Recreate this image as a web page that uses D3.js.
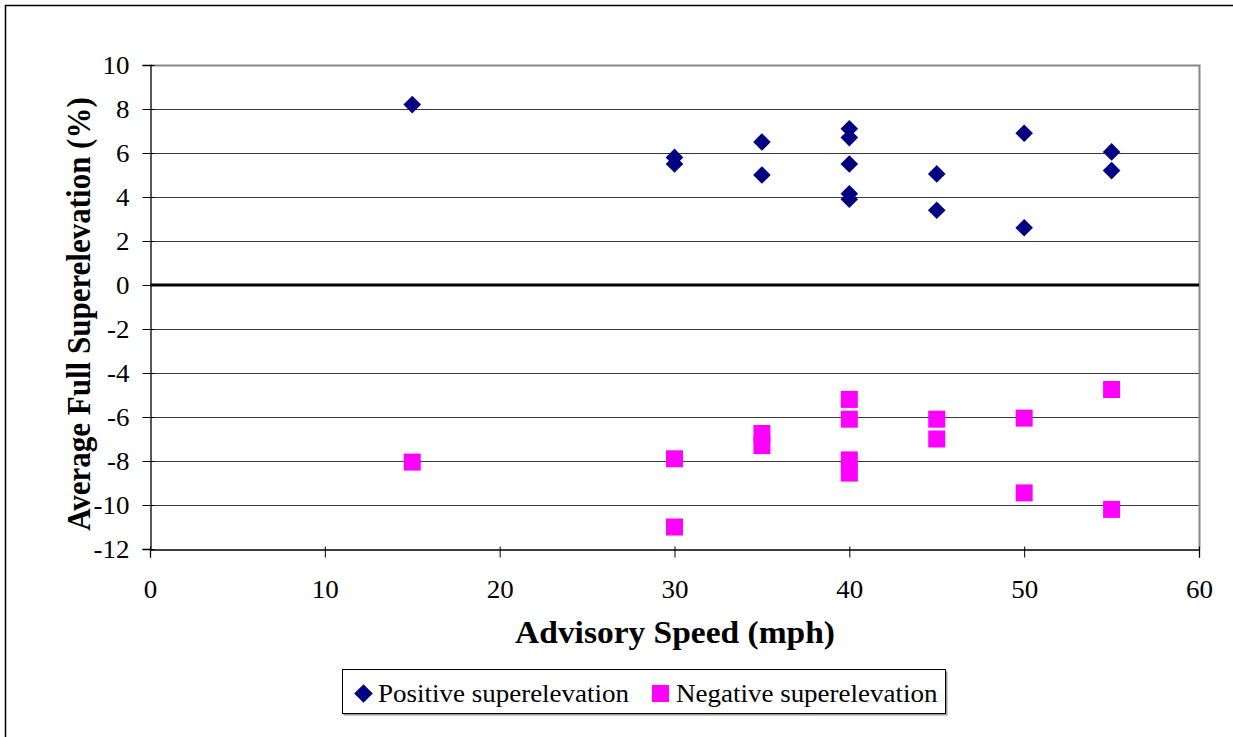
<!DOCTYPE html>
<html>
<head>
<meta charset="utf-8">
<script src="https://cdn.jsdelivr.net/npm/d3@7"></script>
<style>
  body { margin: 0; background: #fff; }
  svg { display: block; }
  text { font-family: "Liberation Serif", "Times New Roman", Times, serif; fill: #000; }
</style>
</head>
<body>
<svg id="chart" width="1233" height="737"></svg>
<script>
// Advisory speed (mph) and average full superelevation (%) per curve
const positiveSpeed = [15, 30, 30, 35, 35, 40, 40, 40, 40, 40, 45, 45, 50, 50, 55, 55];
const positiveSuper = [8.2, 5.8, 5.5, 6.5, 5.0, 7.1, 6.7, 5.5, 4.15, 3.9, 5.05, 3.4, 6.9, 2.6, 6.05, 5.2];

const negativeSpeed = [15, 30, 30, 35, 35, 40, 40, 40, 40, 45, 45, 50, 50, 55, 55];
const negativeSuper = [-8.05, -7.9, -11.0, -6.75, -7.3, -5.2, -6.1, -7.95, -8.55, -6.1, -7.0, -6.05, -9.45, -4.75, -10.2];

const xTicks = [0, 10, 20, 30, 40, 50, 60];
const yTicks = [10, 8, 6, 4, 2, 0, -2, -4, -6, -8, -10, -12];

const seriesNames = ["Positive superelevation", "Negative superelevation"];
const seriesColors = ["#000080", "#ff00ff"];

// text is drawn slightly wide
const SX = 1.08;

const svg = d3.select("#chart");

// outer frame
svg.append("rect")
  .attr("x", 5.5).attr("y", 5.5)
  .attr("width", 1240).attr("height", 740)
  .attr("fill", "none").attr("stroke", "#000").attr("stroke-width", 1.5);

const plot = { left: 150, top: 65, right: 1199, bottom: 549 };

const x = d3.scaleLinear().domain([0, 60]).range([plot.left, plot.right]);
const y = d3.scaleLinear().domain([-12, 10]).range([plot.bottom, plot.top]);

// horizontal gridlines
svg.append("g")
  .selectAll("line")
  .data(yTicks.filter(t => t !== 0 && t !== -12 && t !== 10))
  .join("line")
  .attr("x1", plot.left).attr("x2", plot.right)
  .attr("y1", d => Math.round(y(d)) + 0.5).attr("y2", d => Math.round(y(d)) + 0.5)
  .attr("stroke", "#3a3a3a").attr("stroke-width", 1.2);

// plot area border (top / right)
svg.append("path")
  .attr("d", `M${plot.left},${plot.top + 0.5}H${plot.right + 0.5}V${plot.bottom}`)
  .attr("fill", "none").attr("stroke", "#888").attr("stroke-width", 2);

// zero line
svg.append("line")
  .attr("x1", plot.left).attr("x2", plot.right)
  .attr("y1", y(0)).attr("y2", y(0))
  .attr("stroke", "#000").attr("stroke-width", 2.8);

// y axis
const yAxis = svg.append("g")
  .attr("transform", `translate(${plot.left + 0.5},0)`)
  .call(d3.axisLeft(y).tickValues(yTicks).tickSize(8).tickFormat(d => String(d)));
yAxis.select(".domain").attr("stroke", "#000").attr("stroke-width", 1.3);
yAxis.selectAll(".tick line").attr("stroke", "#000").attr("x2", -8).attr("x1", 4);
yAxis.selectAll(".tick text")
  .attr("font-size", 25)
  .attr("font-family", null)
  .attr("x", -21 / SX)
  .attr("dy", "0.32em")
  .attr("transform", `scale(${SX},1)`);

// x axis
const xAxis = svg.append("g")
  .attr("transform", `translate(0,${plot.bottom + 0.5})`)
  .call(d3.axisBottom(x).tickValues(xTicks).tickSize(8).tickFormat(d => String(d)));
xAxis.select(".domain").attr("stroke", "#000").attr("stroke-width", 1.3);
xAxis.selectAll(".tick line").attr("stroke", "#000").attr("y1", -3);
xAxis.selectAll(".tick text")
  .attr("font-size", 25)
  .attr("font-family", null)
  .attr("y", 31)
  .attr("transform", `scale(${SX},1)`);

// axis titles
svg.append("text")
  .attr("transform", `translate(675,643) scale(${SX},1)`)
  .attr("text-anchor", "middle")
  .attr("font-size", 31).attr("font-weight", "bold")
  .text("Advisory Speed (mph)");

svg.append("text")
  .attr("transform", `translate(90,314) scale(${SX},1) rotate(-90)`)
  .attr("text-anchor", "middle")
  .attr("font-size", 31).attr("font-weight", "bold")
  .text("Average Full Superelevation (%)");

// markers
const diamond = s => `M0,${-s}L${s},0L0,${s}L${-s},0Z`;

svg.append("g")
  .selectAll("path")
  .data(d3.zip(positiveSpeed, positiveSuper))
  .join("path")
  .attr("transform", d => `translate(${x(d[0])},${y(d[1])})`)
  .attr("d", diamond(8.8))
  .attr("fill", seriesColors[0]);

const sq = 17;
svg.append("g")
  .selectAll("rect")
  .data(d3.zip(negativeSpeed, negativeSuper))
  .join("rect")
  .attr("x", d => x(d[0]) - sq / 2)
  .attr("y", d => y(d[1]) - sq / 2)
  .attr("width", sq).attr("height", sq)
  .attr("fill", seriesColors[1]);

// legend
const legend = svg.append("g");
legend.append("rect")
  .attr("x", 343.5).attr("y", 671.5)
  .attr("width", 604).attr("height", 44)
  .attr("fill", "#999");
legend.append("rect")
  .attr("x", 342.5).attr("y", 669.5)
  .attr("width", 603).attr("height", 44)
  .attr("fill", "#fff").attr("stroke", "#000").attr("stroke-width", 1);

legend.append("path")
  .attr("transform", "translate(363.5,693.5)")
  .attr("d", diamond(9.3))
  .attr("fill", seriesColors[0]);
legend.append("text")
  .attr("transform", `translate(378,702) scale(${SX},1)`)
  .attr("font-size", 25)
  .text(seriesNames[0]);

legend.append("rect")
  .attr("x", 652).attr("y", 685)
  .attr("width", 17).attr("height", 17)
  .attr("fill", seriesColors[1]);
legend.append("text")
  .attr("transform", `translate(676,702) scale(${SX},1)`)
  .attr("font-size", 25)
  .text(seriesNames[1]);
</script>
</body>
</html>
